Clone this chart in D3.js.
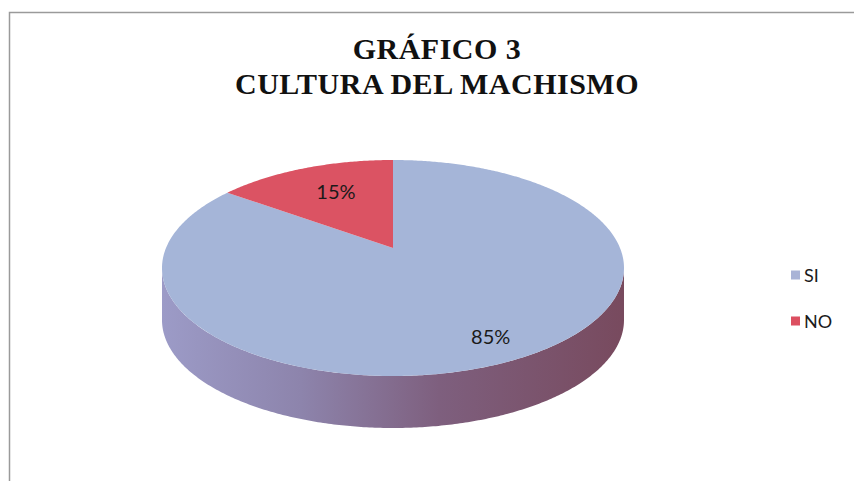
<!DOCTYPE html>
<html>
<head>
<meta charset="utf-8">
<script src="https://cdn.jsdelivr.net/npm/d3@7"></script>
<style>
  body { margin: 0; background: #fff; }
</style>
</head>
<body>
<div id="chart"></div>
<script>
const categories = ['SI', 'NO'];
const values = [85, 15];
const titleLines = ['GRÁFICO 3', 'CULTURA DEL MACHISMO'];

const width = 854;
const height = 481;

// 3d pie geometry
const cx = 393;
const cy = 268;
const rx = 231;
const ry = 108;
const depth = 52;
const persp = -0.185; // pulls the centre of the disc toward the back
const k = Math.sqrt(1 - persp * persp);

const topColors = ['#a5b5d8', '#db5363'];
const legendColors = ['#a9b3d6', '#dc4f60'];
const labelRadius = [0.82, 0.68];

const svg = d3
  .select('#chart')
  .append('svg')
  .attr('width', width)
  .attr('height', height)
  .attr('viewBox', `0 0 ${width} ${height}`);

// frame (only top and left edges are in the picture)
svg
  .append('path')
  .attr('d', `M9.5,${height} V12.5 H${width}`)
  .attr('fill', 'none')
  .attr('stroke', '#9a9a9a')
  .attr('stroke-width', 1.5);

const title = svg
  .append('text')
  .attr('text-anchor', 'middle')
  .style('font-family', "'Liberation Serif', 'Times New Roman', serif")
  .style('font-weight', 700)
  .style('font-size', '30px')
  .style('letter-spacing', '0.5px')
  .attr('fill', '#111');

title
  .selectAll('tspan')
  .data(titleLines)
  .join('tspan')
  .attr('x', 437)
  .attr('y', (d, i) => 59 + i * 35)
  .text((d) => d);

// project a point of the disc (angle clockwise from 12 o'clock, radius 0..1)
const project = (angle, r) => {
  const u = r * Math.sin(angle);
  const v = -r * Math.cos(angle);
  const w = 1 + persp * v;
  return [cx + (rx * u * k) / w, cy + (ry * (v + persp)) / w];
};

const pie = d3.pie().sort(null).value((d) => d.value);
const arcs = pie(categories.map((c, i) => ({ name: c, value: values[i] })));

const line = d3.line();

const defs = svg.append('defs');
const grad = defs
  .append('linearGradient')
  .attr('id', 'sideGrad')
  .attr('gradientUnits', 'userSpaceOnUse')
  .attr('x1', cx - rx)
  .attr('x2', cx + rx)
  .attr('y1', 0)
  .attr('y2', 0);

grad
  .selectAll('stop')
  .data([
    [0, '#9c9bc7'],
    [0.3, '#8d84ac'],
    [0.6, '#7e5f7e'],
    [1, '#784a5e'],
  ])
  .join('stop')
  .attr('offset', (d) => d[0])
  .attr('stop-color', (d) => d[1]);

// front wall of the disc, between the two silhouette points
const a1 = Math.acos(persp);
const a2 = 2 * Math.PI - a1;
const wallAngles = d3.range(a1, a2, 0.01).concat([a2]);
const upper = wallAngles.map((t) => project(t, 1));
const lower = upper.map((p) => [p[0], p[1] + depth]).reverse();

svg
  .append('path')
  .attr('d', line(upper.concat(lower)) + 'Z')
  .attr('fill', 'url(#sideGrad)');

// top face slices
const slices = svg.append('g');

slices
  .selectAll('path')
  .data(arcs)
  .join('path')
  .attr('d', (d) => {
    const steps = d3.range(d.startAngle, d.endAngle, 0.01).concat([d.endAngle]);
    const pts = [project(0, 0)].concat(steps.map((t) => project(t, 1)));
    return line(pts) + 'Z';
  })
  .attr('fill', (d, i) => topColors[i]);

slices
  .selectAll('text')
  .data(arcs)
  .join('text')
  .attr('x', (d, i) => project((d.startAngle + d.endAngle) / 2, labelRadius[i])[0] + (i ? 6 : 0))
  .attr('y', (d, i) => project((d.startAngle + d.endAngle) / 2, labelRadius[i])[1])
  .attr('text-anchor', 'middle')
  .attr('dominant-baseline', 'central')
  .style('font-family', "Lato, 'Open Sans', sans-serif")
  .style('font-size', '20px')
  .attr('fill', '#1a1a1a')
  .text((d) => d3.format('.0%')(d.value / d3.sum(values)));

// legend
const legend = svg
  .append('g')
  .attr('transform', 'translate(791, 275)');

const item = legend
  .selectAll('g')
  .data(categories)
  .join('g')
  .attr('transform', (d, i) => `translate(0, ${i * 46})`);

item
  .append('rect')
  .attr('x', 0)
  .attr('y', -4.5)
  .attr('width', 9)
  .attr('height', 9)
  .attr('fill', (d, i) => legendColors[i]);

item
  .append('text')
  .attr('x', 13)
  .attr('y', 0)
  .attr('dominant-baseline', 'central')
  .style('font-family', "Lato, 'Open Sans', sans-serif")
  .style('font-size', '18px')
  .attr('fill', '#1a1a1a')
  .text((d) => d);
</script>
</body>
</html>
